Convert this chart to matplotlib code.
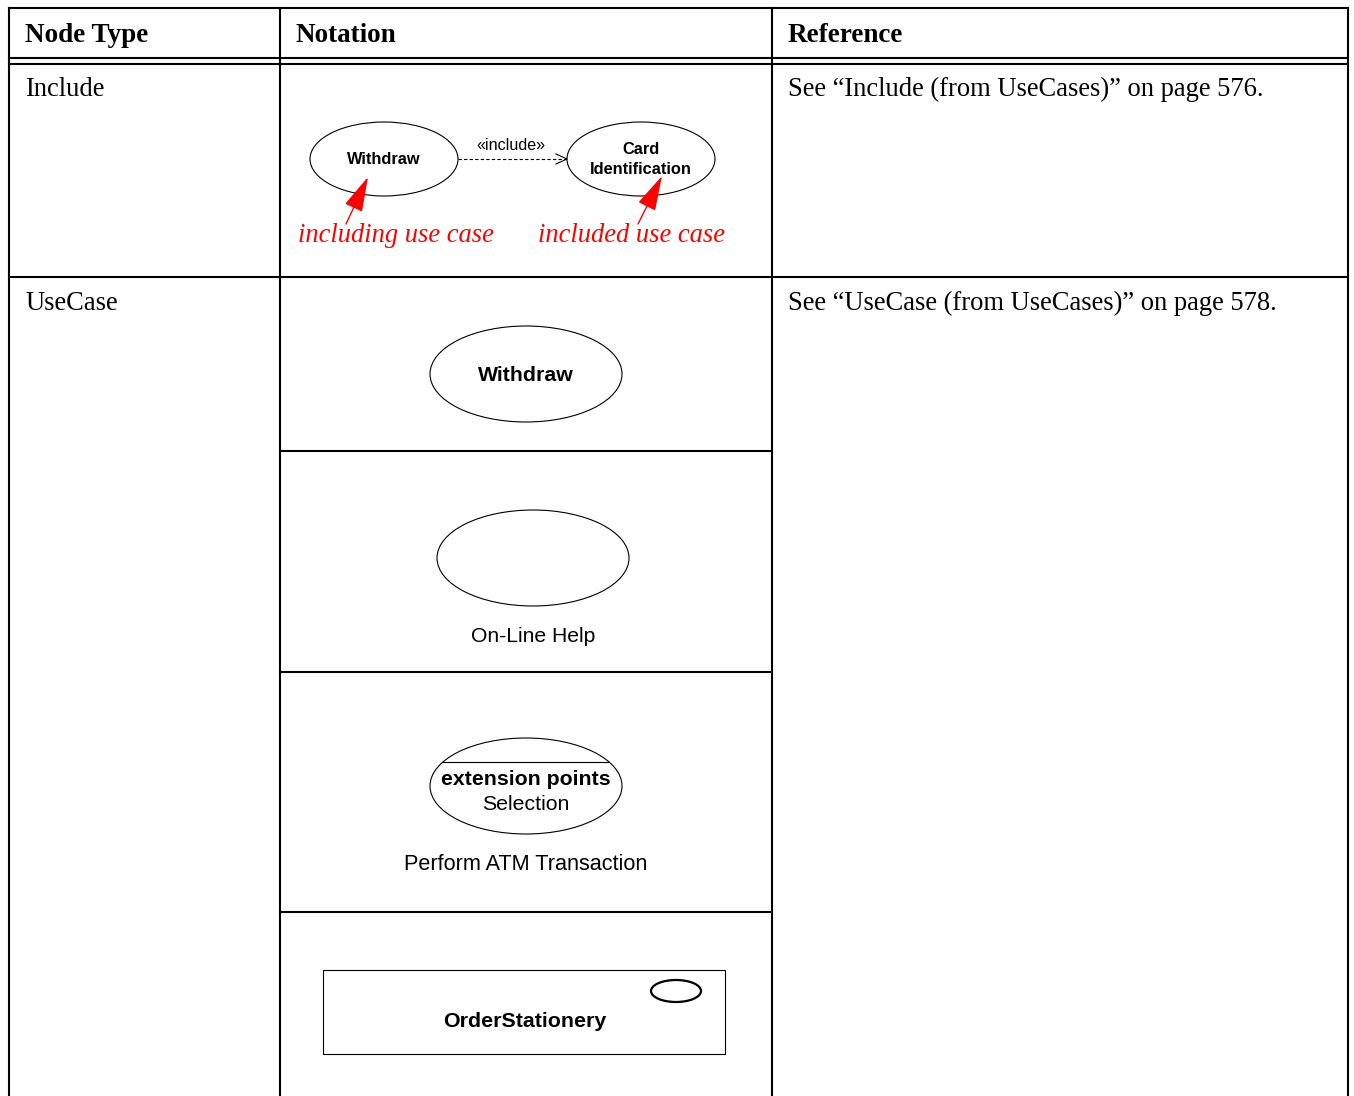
import matplotlib.pyplot as plt
from matplotlib.patches import Ellipse, Rectangle

# Table content
headers = ["Node Type", "Notation", "Reference"]
node_types = ["Include", "UseCase"]
references = ["See \u201cInclude (from UseCases)\u201d on page 576.",
              "See \u201cUseCase (from UseCases)\u201d on page 578."]
include_cases = ["Withdraw", "Card\nIdentification"]
include_label = "\u00abinclude\u00bb"
red_notes = ["including use case", "included use case"]
usecase_names = ["Withdraw", "On-Line Help", "Perform ATM Transaction", "OrderStationery"]
ext_title = "extension points"
ext_points = ["Selection"]

W, H = 1354, 1096
fig = plt.figure(figsize=(W / 100, H / 100), dpi=100)
ax = fig.add_axes([0, 0, 1, 1])
ax.set_xlim(0, W)
ax.set_ylim(H, 0)
ax.axis("off")

SERIF = "Liberation Serif"
SANS = "Liberation Sans"
TLW = 1.5   # table line width
LW = 0.8    # diagram line width

# --- table grid ---
x_left, x_c1, x_c2, x_right = 9, 280, 772, 1348
ax.plot([x_left, x_right], [8, 8], color="black", lw=TLW)
ax.plot([x_left, x_right], [58, 58], color="black", lw=TLW)
ax.plot([x_left, x_right], [64, 64], color="black", lw=TLW)
ax.plot([x_left, x_right], [277, 277], color="black", lw=TLW)
for x in [x_left, x_c1, x_c2, x_right]:
    ax.plot([x, x], [8, H + 5], color="black", lw=TLW)
for y in [451, 672, 912]:
    ax.plot([x_c1, x_c2], [y, y], color="black", lw=TLW)

# --- header and text columns ---
for x, t in zip([25, 296, 788], headers):
    ax.text(x, 42, t, family=SERIF, fontweight="bold", fontsize=19.5, va="baseline")
for y, nt, ref in zip([96, 310], node_types, references):
    ax.text(25, y, nt, family=SERIF, fontsize=19.1, va="baseline")
    ax.text(788, y, ref, family=SERIF, fontsize=19.1, va="baseline")

# --- Include diagram ---
for cx, name in zip([384, 641], include_cases):
    ax.add_patch(Ellipse((cx, 159), 148, 74, fill=False, lw=LW, ec="black"))
ax.text(384, 164, include_cases[0], family=SANS, fontweight="bold", fontsize=11.8,
        ha="center", va="baseline")
ax.text(641, 154, include_cases[1].split("\n")[0], family=SANS, fontweight="bold",
        fontsize=11.8, ha="center", va="baseline")
ax.text(641, 174, include_cases[1].split("\n")[1], family=SANS, fontweight="bold",
        fontsize=11.8, ha="center", va="baseline")
ax.plot([458, 566], [159, 159], color="black", lw=LW, ls=(0, (3, 2)))
ax.plot([556, 567, 556], [154, 159, 164], color="black", lw=LW)
ax.text(511, 150, include_label, family=SANS, fontsize=11.6, ha="center", va="baseline")

for (tail, tip) in [((346, 224), (368, 177)), ((638, 224), (662, 176))]:
    ax.annotate("", xy=tip, xytext=tail,
                arrowprops=dict(arrowstyle="-|>,head_length=1.1,head_width=0.3",
                                mutation_scale=20, color="red", lw=1,
                                shrinkA=0, shrinkB=0))
for x, t in zip([298, 538], red_notes):
    ax.text(x, 242, t, family=SERIF, style="italic", fontsize=19.1, color="red",
            va="baseline")

# --- UseCase diagrams ---
ax.add_patch(Ellipse((526, 374), 192, 96, fill=False, lw=LW, ec="black"))
ax.text(526, 381, usecase_names[0], family=SANS, fontweight="bold", fontsize=15.3,
        ha="center", va="baseline")

ax.add_patch(Ellipse((533, 558), 192, 96, fill=False, lw=LW, ec="black"))
ax.text(533, 642, usecase_names[1], family=SANS, fontsize=15.2, ha="center", va="baseline")

ecx, ecy, ea, eb = 526, 786, 96, 48
ax.add_patch(Ellipse((ecx, ecy), 2 * ea, 2 * eb, fill=False, lw=LW, ec="black"))
ly = 762
hw = ea * (1 - ((ly - ecy) / eb) ** 2) ** 0.5
ax.plot([ecx - hw, ecx + hw], [ly, ly], color="black", lw=LW)
ax.text(ecx, 785, ext_title, family=SANS, fontweight="bold", fontsize=15.3,
        ha="center", va="baseline")
for i, p in enumerate(ext_points):
    ax.text(ecx, 810 + i * 26, p, family=SANS, fontsize=15.3, ha="center", va="baseline")
ax.text(526, 870, usecase_names[2], family=SANS, fontsize=15.6, ha="center", va="baseline")

ax.add_patch(Rectangle((323, 970), 402, 84, fill=False, lw=LW, ec="black"))
ax.add_patch(Ellipse((676, 991), 50, 22, fill=False, lw=1.6, ec="black"))
ax.text(525, 1027, usecase_names[3], family=SANS, fontweight="bold", fontsize=15.4,
        ha="center", va="baseline")

fig.savefig("out.png", dpi=100)
